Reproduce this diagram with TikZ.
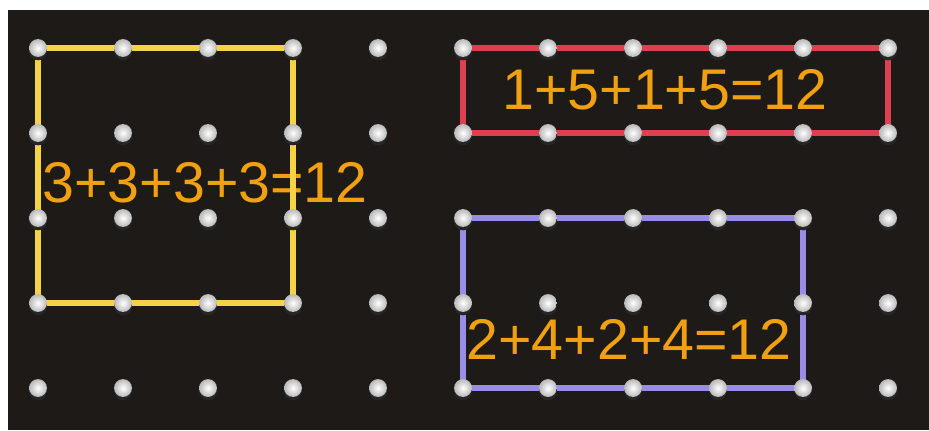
\documentclass[tikz,border=0pt]{standalone}
\usepackage{fontspec}
\setmainfont{Liberation Sans}
\definecolor{board}{RGB}{30,26,24}
\definecolor{yband}{RGB}{244,212,70}
\definecolor{rband}{RGB}{222,64,80}
\definecolor{pband}{RGB}{152,142,232}
\definecolor{sumtext}{RGB}{240,160,16}
\usetikzlibrary{shadings}
\tikzstyle{peg}=[circle,inner sep=0pt,minimum size=2.1mm,inner color=white,outer color=gray!55]
\tikzstyle{pegshadow}=[circle,inner sep=0pt,minimum size=2.1mm,fill=black!85]
\tikzstyle{band}=[draw,line width=2pt,line join=round]
\tikzstyle{sum}=[font=\fontsize{19.2}{22}\selectfont,text=sumtext,inner sep=0pt]

\begin{document}
\begin{tikzpicture}[x=1cm,y=-1cm]
    \path[use as bounding box] (-0.447,-0.565) rectangle (10.482,4.494);
    \fill[white] (-0.447,-0.565) rectangle (10.482,4.494);
    \fill[board] (-0.353,-0.447) rectangle (10.482,4.494);

    \node[sum] (t1) at (1.965,1.588) {3+3+3+3=12};
    \node[sum] (t2) at (7.376,0.494) {1+5+1+5=12};
    \node[sum] (t3) at (6.953,3.424) {2+4+2+4=12};

    % grid of pegs
    \foreach \i in {0,...,10}
        \foreach \j in {0,...,4}
            \coordinate (g-\i-\j) at (\i,\j);

    % rubber bands
    \path[band,yband] (g-0-0) -- (g-3-0) -- (g-3-3) -- (g-0-3) -- cycle;
    \path[band,rband] (g-5-0) -- (g-10-0) -- (g-10-1) -- (g-5-1) -- cycle;
    \path[band,pband] (g-5-2) -- (g-9-2) -- (g-9-4) -- (g-5-4) -- cycle;

    \foreach \i in {0,...,10}
        \foreach \j in {0,...,4} {
            \node[pegshadow] at ([yshift=-0.04cm]g-\i-\j) {};
            \node[peg] (p-\i-\j) at (g-\i-\j) {};
        }
\end{tikzpicture}
\end{document}
